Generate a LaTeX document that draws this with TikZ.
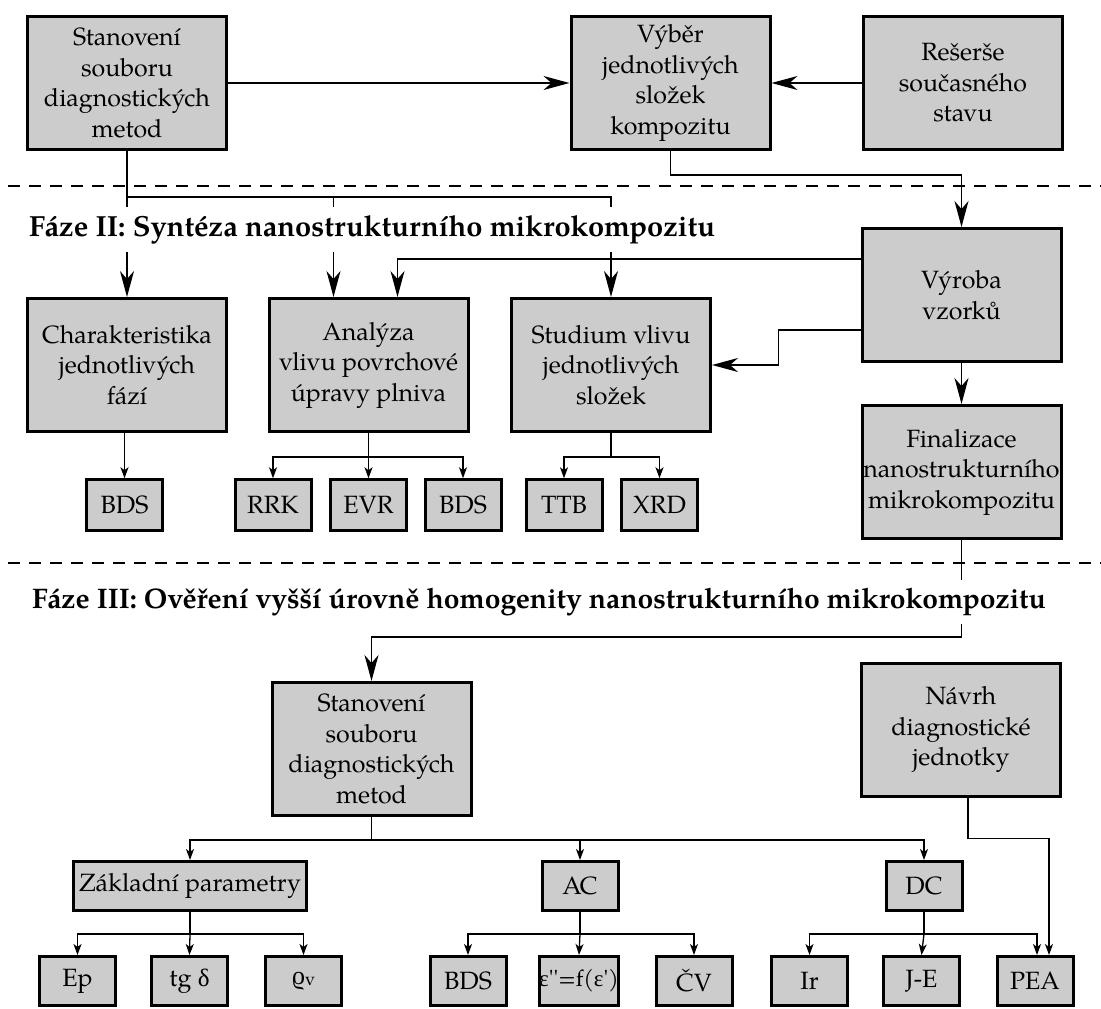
\documentclass[tikz,border=0pt]{standalone}
\usepackage{fontspec}
\setmainfont{texgyrepagella}[Extension=.otf, UprightFont=*-regular, BoldFont=*-bold, ItalicFont=*-italic, BoldItalicFont=*-bolditalic]
\newfontfamily\grk{Liberation Serif}
\usetikzlibrary{arrows.meta,calc}
\definecolor{boxgray}{RGB}{204,204,204}
\newcommand\boxfont{\fontsize{25pt}{30.5pt}\selectfont}
\newcommand\ttlfont{\fontsize{29.1pt}{33pt}\selectfont\bfseries}
\newcommand\ttlfontb{\fontsize{28.3pt}{33pt}\selectfont\bfseries}
\tikzset{
  bigbox/.style={draw, line width=3pt, fill=boxgray, minimum width=199pt, minimum height=133pt, align=center, inner sep=1pt, font=\boxfont},
  smallbox/.style={draw, line width=3pt, fill=boxgray, minimum width=76pt, minimum height=50.5pt, inner sep=1pt, font=\boxfont},
  lowbox/.style={smallbox, minimum height=49pt},
  conn/.style={line width=1.3pt},
  bigarr/.style={conn, -{Stealth[length=26pt,width=14pt,inset=8pt]}},
  smallarr/.style={conn, -{Stealth[length=11pt,width=8pt,inset=3pt]}},
  sepline/.style={line width=1.2pt, dash pattern=on 12pt off 9pt},
  phasetitle/.style={font=\ttlfont, fill=white, inner xsep=0pt, inner ysep=8pt, anchor=base west}
}
\begin{document}
\begin{tikzpicture}[x=1pt,y=-1pt]
\useasboundingbox (0,0) rectangle (1101,1009);
% separators
\draw[sepline] (8,186) -- (1101,186);
\draw[sepline] (8,563) -- (1101,563);
% phase I
\node[bigbox] (s1) at (127,83) {Stanovení\\souboru\\diagnostických\\metod};
\node[bigbox] (vyb) at (670.5,83) {Výběr\\jednotlivých\\složek\\kompozitu};
\node[bigbox] (res) at (963,83) {Rešerše\\současného\\stavu};
% phase II
\node[bigbox] (cha) at (127,365) {Charakteristika\\jednotlivých\\fází};
\node[bigbox] (ana) at (368.5,365) {Analýza\\vlivu povrchové\\úpravy plniva};
\node[bigbox] (stu) at (611,365) {Studium vlivu\\jednotlivých\\složek};
\node[bigbox] (vyr) at (961.5,295) {Výroba\\vzorků};
\node[bigbox] (fin) at (961.5,472) {Finalizace\\nanostrukturního\\mikrokompozitu};
\node[smallbox] (bds1) at (124.5,505) {BDS};
\node[smallbox] (rrk) at (273,505) {RRK};
\node[smallbox] (evr) at (368.5,505) {EVR};
\node[smallbox] (bds2) at (463,505) {BDS};
\node[smallbox] (ttb) at (564,505) {TTB};
\node[smallbox] (xrd) at (659.5,505) {XRD};
% phase III
\node[bigbox] (s2) at (371.5,749) {Stanovení\\souboru\\diagnostických\\metod};
\node[bigbox] (nav) at (961,729.5) {Návrh\\diagnostické\\jednotky};
\node[lowbox, minimum width=233pt] (zak) at (190,886) {Základní parametry};
\node[lowbox] (ac) at (580,886) {AC};
\node[lowbox] (dc) at (924,886) {DC};
\node[lowbox] (ep) at (77.5,981) {Ep};
\node[lowbox] (tg) at (189.5,981) {tg {\grk δ}};
\node[lowbox] (rho) at (303.5,981) {{\grk\fontsize{26pt}{30pt}\selectfont ϱ}\raisebox{-1pt}{\fontsize{18pt}{21pt}\selectfont v}};
\node[lowbox] (bds3) at (468,981) {BDS};
\node[lowbox, inner sep=0pt] (eps) at (579,981) {\fontsize{23pt}{28pt}\selectfont{\grk ε}\textquotesingle\textquotesingle=f({\grk ε}\textquotesingle)};
\node[lowbox] (cv) at (694,981) {ČV};
\node[lowbox] (ir) at (809.5,981) {Ir};
\node[lowbox] (je) at (921.5,981) {J-E};
\node[lowbox] (pea) at (1035,981) {PEA};
% connectors phase I
\draw[bigarr] (s1.east) -- (vyb.west);
\draw[bigarr] (res.west) -- (vyb.east);
\draw[bigarr] (vyb.south) -- ++(0,24) -| (vyr.north);
% feed to phase II
\draw[bigarr] (s1.south) -- (cha.north);
\draw[bigarr] (s1.south) ++(0,46) -| ($(ana.north)+(-35,0)$);
\draw[bigarr] (s1.south) ++(0,46) -| (stu.north);
\draw[bigarr] ($(vyr.west)+(0,-36)$) -| ($(ana.north)+(29,0)$);
\draw[bigarr] ($(vyr.west)+(0,35)$) -- ++(-82,0) |- (stu.east);
\draw[bigarr] (vyr.south) -- (fin.north);
% phase II measurements
\draw[smallarr] (cha.south -| bds1.north) -- (bds1.north);
\draw[conn] (ana.south) -- ++(0,24) coordinate (ja);
\draw[smallarr] (ja) -| (rrk.north);
\draw[smallarr] (ja) -- (evr.north);
\draw[smallarr] (ja) -| (bds2.north);
\draw[conn] (stu.south) -- ++(0,24) coordinate (js);
\draw[smallarr] (js) -| (ttb.north);
\draw[smallarr] (js) -| (xrd.north);
% to phase III
\draw[bigarr] (fin.south) -- ++(0,97) -| (s2.north);
\draw[conn] (s2.south) -- ++(0,23) coordinate (jm);
\draw[smallarr] (jm) -| (zak.north);
\draw[smallarr] (jm) -| (ac.north);
\draw[smallarr] (jm) -| (dc.north);
\draw[conn] (zak.south) -- ++(0,22) coordinate (jz);
\draw[smallarr] (jz) -| (ep.north);
\draw[smallarr] (jz) -- (tg.north);
\draw[smallarr] (jz) -| (rho.north);
\draw[conn] (ac.south) -- ++(0,22) coordinate (jac);
\draw[smallarr] (jac) -| (bds3.north);
\draw[smallarr] (jac) -- (eps.north);
\draw[smallarr] (jac) -| (cv.north);
\draw[conn] (dc.south) -- ++(0,22) coordinate (jdc);
\draw[smallarr] (jdc) -| (ir.north);
\draw[smallarr] (jdc) -- (je.north);
\draw[smallarr] (jdc) -| ($(pea.north)+(2,0)$);
\draw[smallarr] ($(nav.south)+(7,0)$) -- ++(0,41) -| ($(pea.north)+(14,0)$);
% phase titles
\node[phasetitle] (t2) at (29,236) {Fáze II: Syntéza nanostrukturního mikrokompozitu};
\node[phasetitle, font=\ttlfontb] (t3) at (32,608) {Fáze III: Ověření vyšší úrovně homogenity nanostrukturního mikrokompozitu};
\end{tikzpicture}
\end{document}
